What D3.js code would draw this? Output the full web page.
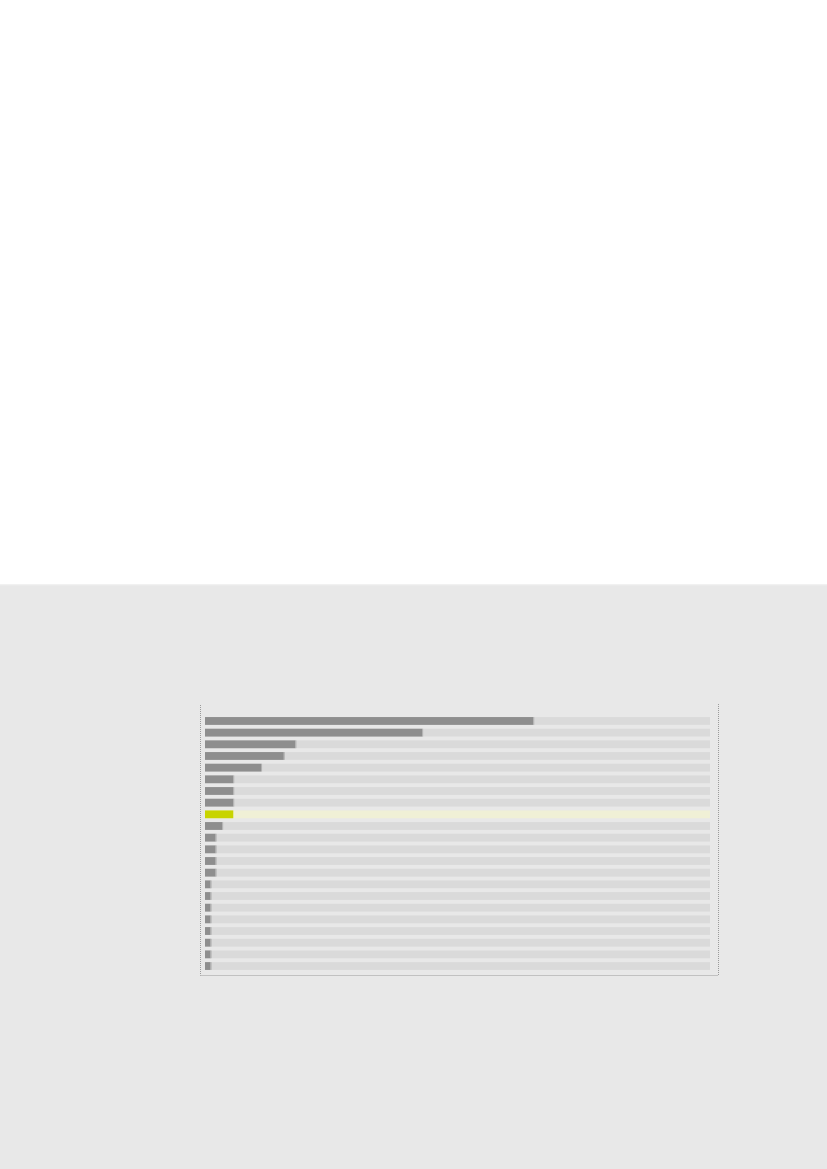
<!DOCTYPE html>
<html>
<head>
<meta charset="utf-8">
<script src="https://cdn.jsdelivr.net/npm/d3@7/dist/d3.min.js"></script>
<style>
  html, body { margin: 0; padding: 0; background: #ffffff; }
  svg { display: block; }
</style>
</head>
<body>
<script>
// ---- data ----
const categories = ["c01","c02","c03","c04","c05","c06","c07","c08","c09","c10","c11",
                    "c12","c13","c14","c15","c16","c17","c18","c19","c20","c21","c22"];
const values = [65, 43, 17.9, 15.6, 11.1, 5.6, 5.6, 5.6, 5.6, 3.4, 2.1,
                2.1, 2.1, 2.1, 1.1, 1.1, 1.1, 1.1, 1.1, 1.1, 1.1, 1.1];
const highlighted = ["c09"];
const maxValue = 100;

// ---- layout ----
const W = 827, H = 1169;
const svg = d3.select("body").append("svg").attr("width", W).attr("height", H);

// page background
svg.append("rect").attr("x", 0).attr("y", 0).attr("width", W).attr("height", H).attr("fill", "#ffffff");
svg.append("rect").attr("x", 0).attr("y", 584.5).attr("width", W).attr("height", H - 584.5).attr("fill", "#e8e8e8");
svg.append("line").attr("x1", 0).attr("x2", W).attr("y1", 585).attr("y2", 585)
  .attr("stroke", "#eeeeee").attr("stroke-width", 1);

const x = d3.scaleLinear().domain([0, maxValue]).range([205, 710]);
const y = d3.scaleBand().domain(categories).range([713.5, 973.5])
  .paddingInner(0.33).paddingOuter(0.305);

const data = categories.map((c, i) => ({ cat: c, value: values[i], hi: highlighted.includes(c) }));

// frame (dotted)
const frame = svg.append("g").attr("fill", "none").attr("stroke", "#9a9a9a")
  .attr("stroke-width", 1).attr("stroke-dasharray", "1,1");
frame.append("line").attr("x1", 200.5).attr("x2", 200.5).attr("y1", 705).attr("y2", 975.5);
frame.append("line").attr("x1", 718.5).attr("x2", 718.5).attr("y1", 704).attr("y2", 975.5);
frame.append("line").attr("x1", 200.5).attr("x2", 718.5).attr("y1", 975.5).attr("y2", 975.5);

// tracks
svg.append("g").selectAll("rect").data(data).join("rect")
  .attr("x", x(0))
  .attr("y", d => y(d.cat))
  .attr("width", x(maxValue) - x(0))
  .attr("height", y.bandwidth())
  .attr("fill", d => d.hi ? "#f0f0d6" : "#dadada");

// bars
svg.append("g").selectAll("rect").data(data).join("rect")
  .attr("x", x(0))
  .attr("y", d => y(d.cat))
  .attr("width", d => x(d.value) - x(0))
  .attr("height", y.bandwidth())
  .attr("fill", d => d.hi ? "#c8d400" : "#8e8e8e");

// light right edge of bars
svg.append("g").selectAll("line").data(data.filter(d => !d.hi)).join("line")
  .attr("x1", d => x(d.value) + 0.5).attr("x2", d => x(d.value) + 0.5)
  .attr("y1", d => y(d.cat)).attr("y2", d => y(d.cat) + y.bandwidth())
  .attr("stroke", "#b0b0b0").attr("stroke-width", 1);
</script>
</body>
</html>
